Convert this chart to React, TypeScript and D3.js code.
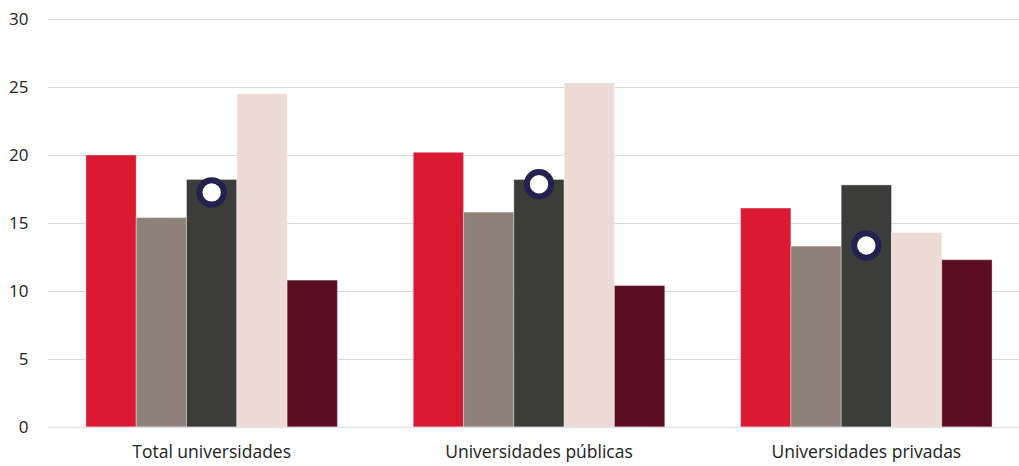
import React from "react";
import * as d3 from "d3";

// Categories and series
const categories = ["Total universidades", "Universidades públicas", "Universidades privadas"];
const seriesKeys = ["s1", "s2", "s3", "s4", "s5"];
const seriesColors = ["#DA1A32", "#8D8179", "#3C3C3B", "#EBDBD4", "#5B0E23"];

// Bar values per series (one value per category)
const s1Values = [20.0, 20.2, 16.1];
const s2Values = [15.4, 15.8, 13.3];
const s3Values = [18.2, 18.2, 17.8];
const s4Values = [24.5, 25.3, 14.3];
const s5Values = [10.8, 10.4, 12.3];

// Point marker values drawn over the third series
const markerValues = [17.25, 17.85, 13.35];

const yTicks = [0, 5, 10, 15, 20, 25, 30];

const W = 1019;
const H = 466;
const left = 48;
const right = 1030;
const top = 19;
const bottom = 427;

export default function App() {
  const allValues = [s1Values, s2Values, s3Values, s4Values, s5Values];

  const y = d3.scaleLinear().domain([0, 30]).range([bottom, top]);
  const x0 = d3.scaleBand<string>().domain(categories).range([left, right]).padding(0);
  const x1 = d3
    .scaleBand<string>()
    .domain(seriesKeys)
    .range([0, x0.bandwidth()])
    .paddingInner(0)
    .paddingOuter(0.754);

  const font = "'Open Sans', 'Noto Sans', sans-serif";

  return (
    <svg
      width={W}
      height={H}
      style={{ position: "absolute", left: 0, top: 0, background: "#fff" }}
    >
      {/* gridlines */}
      {yTicks.slice(1).map((t) => (
        <line
          key={"g" + t}
          x1={left}
          x2={W}
          y1={Math.round(y(t)) + 0.5}
          y2={Math.round(y(t)) + 0.5}
          stroke="#D9D9D9"
          strokeWidth={1}
        />
      ))}

      {/* y tick labels */}
      {yTicks.map((t) => (
        <text
          key={"t" + t}
          x={28.5}
          y={y(t)}
          dy="0.36em"
          textAnchor="end"
          fontFamily={font}
          fontSize={17}
          fill="#222"
        >
          {t}
        </text>
      ))}

      {/* bars */}
      {categories.map((c, ci) => (
        <g key={c} transform={`translate(${x0(c)},0)`}>
          {seriesKeys.map((s, si) => {
            const v = allValues[si][ci];
            return (
              <rect
                key={s}
                x={x1(s)}
                y={y(v)}
                width={x1.bandwidth()}
                height={y(0) - y(v)}
                fill={seriesColors[si]}
                stroke="#ffffff"
                strokeOpacity={0.35}
                strokeWidth={1}
              />
            );
          })}
        </g>
      ))}

      {/* baseline */}
      <line
        x1={left}
        x2={W}
        y1={bottom + 0.5}
        y2={bottom + 0.5}
        stroke="#E3E3EC"
        strokeWidth={1.5}
      />

      {/* markers */}
      {categories.map((c, ci) => (
        <circle
          key={"m" + c}
          cx={(x0(c) ?? 0) + (x1("s3") ?? 0) + x1.bandwidth() / 2}
          cy={y(markerValues[ci])}
          r={12.2}
          fill="#ffffff"
          stroke="#23214F"
          strokeWidth={6}
        />
      ))}

      {/* category labels */}
      {categories.map((c) => (
        <text
          key={"c" + c}
          x={(x0(c) ?? 0) + x0.bandwidth() / 2}
          y={458}
          textAnchor="middle"
          fontFamily={font}
          fontSize={17.5}
          fill="#222"
        >
          {c}
        </text>
      ))}
    </svg>
  );
}
